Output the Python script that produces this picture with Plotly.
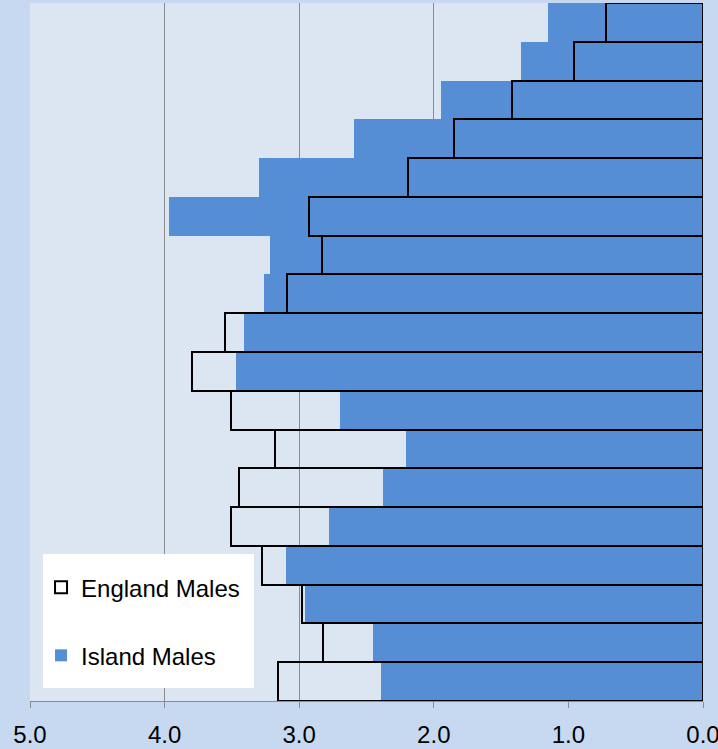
import plotly.graph_objects as go

age_groups = ["0-4", "5-9", "10-14", "15-19", "20-24", "25-29", "30-34", "35-39",
              "40-44", "45-49", "50-54", "55-59", "60-64", "65-69", "70-74",
              "75-79", "80-84", "85+"]
island_males = [2.39, 2.45, 2.955, 3.10, 2.78, 2.38, 2.21, 2.70, 3.47, 3.41,
                3.26, 3.22, 3.97, 3.30, 2.59, 1.945, 1.35, 1.15]
england_males = [3.16, 2.82, 2.98, 3.28, 3.51, 3.45, 3.18, 3.51, 3.80, 3.55,
                 3.09, 2.83, 2.93, 2.19, 1.85, 1.42, 0.96, 0.72]
x_ticks = [0, 1, 2, 3, 4, 5]

fig = go.Figure()
fig.add_trace(go.Bar(
    y=age_groups, x=island_males, orientation="h", name="Island Males",
    marker=dict(color="#558ED5", line=dict(width=0)),
    legendgroup="b", legendrank=2,
))
fig.add_trace(go.Bar(
    y=age_groups, x=england_males, orientation="h", name="England Males",
    marker=dict(color="rgba(0,0,0,0)", line=dict(color="black", width=2)),
    legendgroup="a", legendrank=1,
))

# white legend box
fig.add_shape(type="rect", xref="paper", yref="paper",
              x0=0.0193, x1=0.3328, y0=0.0186, y1=0.2106,
              fillcolor="white", line=dict(width=0), layer="above")

fig.update_layout(
    width=718, height=749,
    margin=dict(l=30, r=15, t=3, b=48),
    paper_bgcolor="#C6D9F1",
    plot_bgcolor="#DCE6F2",
    barmode="overlay",
    bargap=0,
    font=dict(family="Liberation Sans, Arial, sans-serif", size=24, color="black"),
    showlegend=True,
    legend=dict(
        x=0.0164, y=0.1948, xanchor="left", yanchor="top",
        bgcolor="rgba(0,0,0,0)", borderwidth=0,
        font=dict(size=24, color="black"),
        traceorder="grouped",
        tracegroupgap=34,
        itemwidth=30,
    ),
    xaxis=dict(
        range=[5, 0], tickvals=x_ticks, tickformat=".1f",
        showgrid=True, gridcolor="#8C8C8C", gridwidth=1,
        showline=True, linecolor="#8C8C8C", linewidth=1,
        ticks="outside", ticklen=6, tickcolor="#8C8C8C",
        zeroline=False, ticklabelstandoff=6, automargin=False,
        ticklabeloverflow="allow",
        tickfont=dict(size=24, color="black"),
    ),
    yaxis=dict(
        showticklabels=False, showgrid=False, zeroline=False, showline=False,
        ticks="", range=[-0.5, 17.5], automargin=False,
    ),
)

fig.write_html("out.html")
